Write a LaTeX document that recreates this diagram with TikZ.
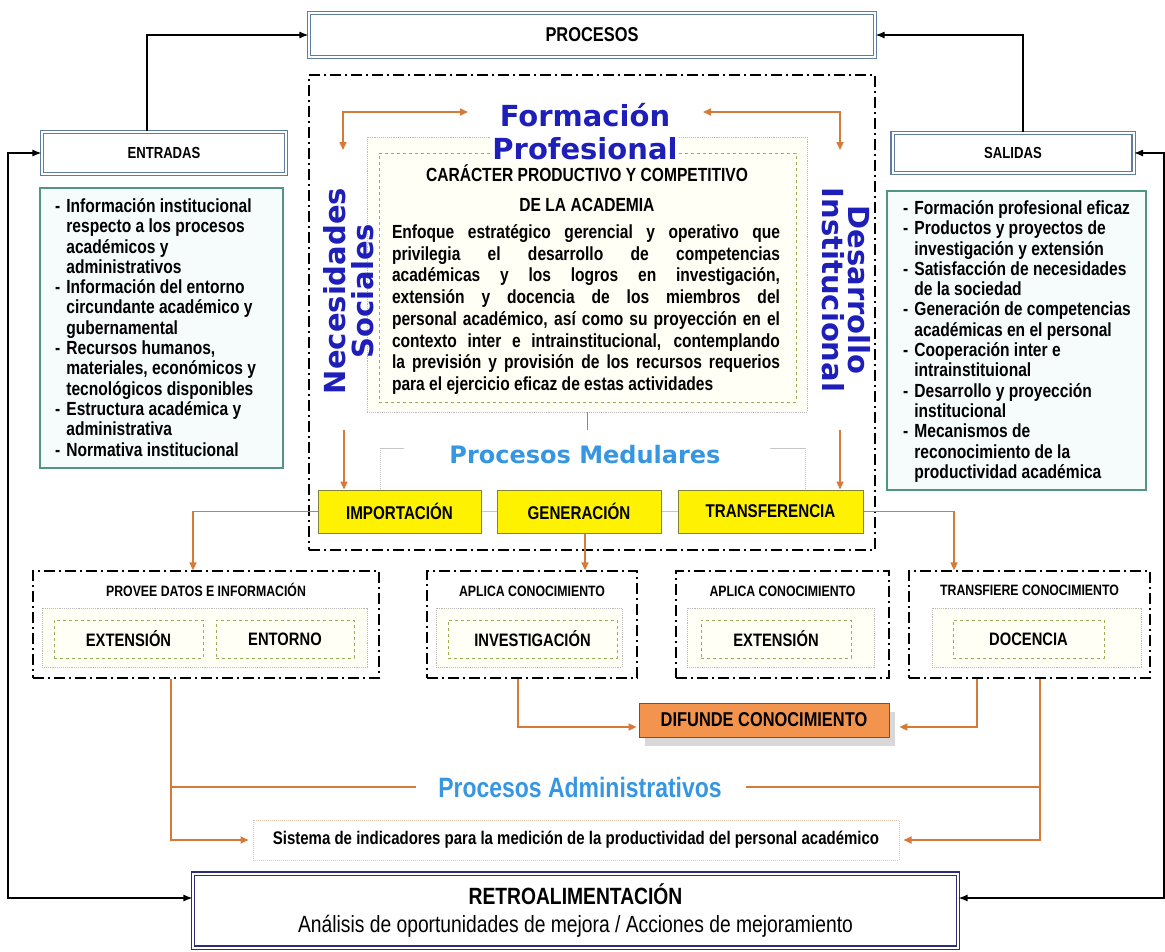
\documentclass[tikz,border=0pt]{standalone}
\usepackage{fontspec}
\setmainfont{Liberation Sans}
\newfontfamily\nfont{Liberation Sans}[FakeStretch=0.82]
\newfontfamily\vfont{DejaVu Sans}
\usetikzlibrary{positioning}
\usetikzlibrary{arrows.meta}
\usetikzlibrary{shadows}

\definecolor{frameblue}{RGB}{95,125,160}
\definecolor{navyframe}{RGB}{45,45,120}
\definecolor{listgreen}{RGB}{80,150,130}
\definecolor{mintfill}{RGB}{246,252,252}
\definecolor{creamfill}{RGB}{255,255,246}
\definecolor{titleblue}{RGB}{30,30,185}
\definecolor{lightblue}{RGB}{55,150,225}
\definecolor{linkorange}{RGB}{214,122,58}
\definecolor{olivegray}{RGB}{130,130,60}
\definecolor{dashgreen}{RGB}{150,175,90}
\definecolor{boxorange}{RGB}{242,148,78}

\newcommand{\fsz}[2]{\fontsize{#1}{#2}\selectfont}

\begin{document}
\begin{tikzpicture}[x=1pt, y=-1pt,
    every node/.style={inner sep=0pt, font=\nfont\bfseries},
    dblbox/.style={draw=frameblue, double=white, double distance=2pt, line width=1.1pt, fill=white},
    listbox/.style={draw=listgreen, line width=1.2pt, fill=mintfill},
    ddbox/.style={draw=black, line width=1.3pt, dash pattern=on 11pt off 4pt on 2pt off 4pt},
    dotbox/.style={draw=gray!55, densely dotted, line width=0.9pt, fill=creamfill},
    greendash/.style={draw=dashgreen, dashed, line width=1pt, fill=creamfill, font=\nfont\bfseries\fsz{18}{20}},
    yellowbox/.style={draw=olivegray, line width=1pt, fill=yellow, minimum height=43pt, font=\nfont\bfseries\fsz{18.5}{20}},
    grouptitle/.style={font=\nfont\bfseries\fsz{15}{18}},
    listtext/.style={anchor=north west, font=\nfont\bfseries\fsz{19}{20.3}},
    blk/.style={line width=1.2pt, {Latex[length=9pt,width=7pt]}-{Latex[length=9pt,width=7pt]}},
    blkend/.style={line width=1.2pt, -{Latex[length=9pt,width=7pt]}},
    oarr/.style={draw=linkorange, line width=1.6pt, -{Triangle[length=8pt,width=7pt]}},
    oboth/.style={draw=linkorange, line width=1.6pt, {Triangle[length=8pt,width=7pt]}-{Triangle[length=8pt,width=7pt]}},
    oline/.style={draw=linkorange, line width=1.6pt},
    gline/.style={draw=gray!45, line width=1pt},
    gdot/.style={draw=gray!45, line width=1pt, densely dotted}]

  \useasboundingbox (0,0) rectangle (1165,951);

  % top row
  \node[dblbox, minimum width=566pt, minimum height=44pt, font=\nfont\bfseries\fsz{20}{22}] (procesos) at (592,35) {PROCESOS};
  \node[dblbox, minimum width=244pt, minimum height=42pt, font=\nfont\bfseries\fsz{16}{18}] (entradas) at (164,153) {ENTRADAS};
  \node[dblbox, minimum width=241pt, minimum height=40pt, font=\nfont\bfseries\fsz{16}{18}] (salidas) at (1013,153) {SALIDAS};

  % input / output lists
  \node[listbox, minimum width=243pt, minimum height=280pt] (entlist) at (161.5,328) {};
  \node[listtext] (enttxt) at (55,198) {\begin{tabular}{@{}l@{\hspace{6pt}}l@{}}
    -&Información institucional\\ &respecto a los procesos\\ &académicos y\\ &administrativos\\
    -&Información del entorno\\ &circundante académico y\\ &gubernamental\\
    -&Recursos humanos,\\ &materiales, económicos y\\ &tecnológicos disponibles\\
    -&Estructura académica y\\ &administrativa\\
    -&Normativa institucional\end{tabular}};

  \node[listbox, minimum width=259pt, minimum height=299pt] (sallist) at (1016.5,340.5) {};
  \node[listtext] (saltxt) at (903,200) {\begin{tabular}{@{}l@{\hspace{6pt}}l@{}}
    -&Formación profesional eficaz\\
    -&Productos y proyectos de\\ &investigación y extensión\\
    -&Satisfacción de necesidades\\ &de la sociedad\\
    -&Generación de competencias\\ &académicas en el personal\\
    -&Cooperación inter e\\ &intrainstituional\\
    -&Desarrollo y proyección\\ &institucional\\
    -&Mecanismos de\\ &reconocimiento de la\\ &productividad académica\end{tabular}};

  % central block
  \node[ddbox, minimum width=566pt, minimum height=475pt] (central) at (592,312.5) {};
  \node[dotbox, minimum width=440pt, minimum height=275pt] (marco) at (587,274.5) {};
  \node[greendash, minimum width=417pt, minimum height=249pt] (caracter) at (587.5,277.5) {};

  \node[fill=white, inner sep=1pt, align=center, text=titleblue, font=\vfont\bfseries\fsz{29}{33}] (formacion) at (585,131.5) {Formación\\Profesional};

  \node[align=center, font=\nfont\bfseries\fsz{19}{30}] (titulo) at (587,188) {CARÁCTER PRODUCTIVO Y COMPETITIVO\\DE LA ACADEMIA};
  \node[align=left, font=\nfont\bfseries\fsz{19}{21.7}] (enfoque) at (586,309.5) {%
    \makebox[388pt][s]{Enfoque estratégico gerencial y operativo que}\\
    \makebox[388pt][s]{privilegia el desarrollo de competencias}\\
    \makebox[388pt][s]{académicas y los logros en investigación,}\\
    \makebox[388pt][s]{extensión y docencia de los miembros del}\\
    \makebox[388pt][s]{personal académico, así como su proyección en el}\\
    \makebox[388pt][s]{contexto inter e intrainstitucional, contemplando}\\
    \makebox[388pt][s]{la previsión y provisión de los recursos requerios}\\
    para el ejercicio eficaz de estas actividades};

  \node[rotate=90, align=center, text=titleblue, font=\vfont\bfseries\fsz{29}{28}] (necesidades) at (349,291) {Necesidades\\Sociales};
  \node[rotate=-90, align=center, text=titleblue, font=\vfont\bfseries\fsz{29}{26}] (desarrollo) at (846,290) {Desarrollo\\Institucional};

  \node[text=lightblue, font=\vfont\bfseries\fsz{24}{28}] (medulares) at (585,455) {Procesos Medulares};

  \node[yellowbox, minimum width=163pt] (imp) at (399.5,511.5) {IMPORTACIÓN};
  \node[yellowbox, minimum width=164pt] (gen) at (579,511.5) {GENERACIÓN};
  \node[yellowbox, minimum width=185pt] (tra) at (770.5,511.5) {TRANSFERENCIA};

  % lower groups
  \node[ddbox, minimum width=346pt, minimum height=107pt] (provee) at (206,624.5) {};
  \node[ddbox, minimum width=210pt, minimum height=107pt] (aplicainv) at (532,624.5) {};
  \node[ddbox, minimum width=213pt, minimum height=107pt] (aplicaext) at (782.5,624.5) {};
  \node[ddbox, minimum width=241pt, minimum height=107pt] (transfiere) at (1029.5,624.5) {};

  \node[grouptitle] (proveetit) at (206,590) {PROVEE DATOS E INFORMACIÓN};
  \node[grouptitle] (aplicainvtit) at (532,591) {APLICA CONOCIMIENTO};
  \node[grouptitle] (aplicaexttit) at (782.5,591) {APLICA CONOCIMIENTO};
  \node[grouptitle] (transfieretit) at (1029.5,590) {TRANSFIERE CONOCIMIENTO};

  \node[dotbox, minimum width=325pt, minimum height=59pt] (proveein) at (204.5,637.5) {};
  \node[dotbox, minimum width=186pt, minimum height=59pt] (aplicainvin) at (529,637.5) {};
  \node[dotbox, minimum width=187pt, minimum height=59pt] (aplicaextin) at (780.5,637.5) {};
  \node[dotbox, minimum width=209pt, minimum height=59pt] (transfierein) at (1036.5,637.5) {};

  \node[greendash, minimum width=149pt, minimum height=38pt] (extension) at (128.5,639) {EXTENSIÓN};
  \node[greendash, minimum width=138pt, minimum height=38pt] (entorno) at (285,639) {ENTORNO};
  \node[greendash, minimum width=169pt, minimum height=38pt] (investigacion) at (532.5,639) {INVESTIGACIÓN};
  \node[greendash, minimum width=150pt, minimum height=38pt] (extension2) at (776,639) {EXTENSIÓN};
  \node[greendash, minimum width=151pt, minimum height=38pt] (docencia) at (1028.5,639) {DOCENCIA};

  \node[draw=orange!60!black, line width=0.8pt, fill=boxorange, minimum width=250pt, minimum height=34pt,
        drop shadow={shadow xshift=6pt, shadow yshift=-9pt, fill=gray!60},
        font=\nfont\bfseries\fsz{20}{22}] (difunde) at (764,720) {DIFUNDE CONOCIMIENTO};

  \node[text=lightblue, font=\nfont\bfseries\fsz{28}{30}] (admin) at (580,787) {Procesos Administrativos};

  \node[draw=brown!45, densely dotted, line width=1pt, minimum width=646pt, minimum height=40pt,
        font=\nfont\bfseries\fsz{18.3}{20}] (sistema) at (576,840) {Sistema de indicadores para la medición de la productividad del personal académico};

  \node[draw=navyframe, double=white, double distance=2pt, line width=1.1pt, fill=white,
        minimum width=765pt, minimum height=74pt, align=center, font=\nfont\fsz{23.5}{28}] (retro) at (575.5,910.5)
        {{\bfseries RETROALIMENTACIÓN}\\Análisis de oportunidades de mejora / Acciones de mejoramiento};

  % black connectors
  \coordinate (lcorner) at (8,898);
  \coordinate (rcorner) at (1164,898);
  \draw[blkend] ([xshift=-17pt]entradas.north) |- (procesos.west);
  \draw[blkend] ([xshift=10pt]salidas.north) |- (procesos.east);
  \draw[blk] ([yshift=12.5pt]retro.west) -- (lcorner) |- (entradas.west);
  \draw[blk] ([yshift=12.5pt]retro.east) -- (rcorner) |- (salidas.east);

  % orange connectors inside the central block
  \coordinate (fla) at (343,150);
  \coordinate (flb) at (468,112);
  \coordinate (fra) at (840,150);
  \coordinate (frb) at (703,112);
  \draw[oboth] (fla) |- (flb);
  \draw[oboth] (fra) |- (frb);
  \coordinate (nsl) at (344,430);
  \coordinate (dil) at (840,430);
  \draw[oarr] (nsl) -- (nsl |- imp.north);
  \draw[oarr] (dil) -- (dil |- tra.north);
  \draw[draw=linkorange!70!gray, line width=1pt] (marco.south) -- ++(0,18);

  % brackets round Procesos Medulares
  \coordinate (mbl) at (380,448);
  \coordinate (mbr) at (805,448);
  \draw[gline] (mbl) -- ++(24,0);
  \draw[gdot] (mbl) -- (mbl |- imp.north);
  \draw[gline] (mbr) -- ++(-35,0);
  \draw[gdot] (mbr) -- (mbr |- tra.north);
  \draw[gline] (imp.east) -- (gen.west);
  \draw[gline] (gen.east) -- (tra.west);

  % from the core processes to the groups
  \coordinate (gs) at ([xshift=6pt]gen.south);
  \draw[oarr] (imp.west) -| ([xshift=-13pt]provee.north);
  \draw[oarr] (gs) -- (gs |- aplicainv.north);
  \draw[oarr] (tra.east) -| ([xshift=-75.5pt]transfiere.north);

  % towards difunde and the indicator system
  \coordinate (pl) at ([xshift=-35pt]provee.south);
  \coordinate (tr) at ([xshift=10.5pt]transfiere.south);
  \draw[oarr] ([xshift=-14pt]aplicainv.south) |- ([xshift=-2pt,yshift=-7pt]difunde.west);
  \draw[oarr] ([xshift=-52.5pt]transfiere.south) |- ([xshift=10pt,yshift=-7pt]difunde.east);
  \draw[oarr] (pl) |- ([xshift=-4pt]sistema.west);
  \draw[oarr] (tr) |- ([xshift=4pt]sistema.east);
  \draw[oline] (pl |- admin.west) -- ([xshift=-22pt]admin.west);
  \draw[oline] (tr |- admin.east) -- ([xshift=24pt]admin.east);

\end{tikzpicture}
\end{document}
